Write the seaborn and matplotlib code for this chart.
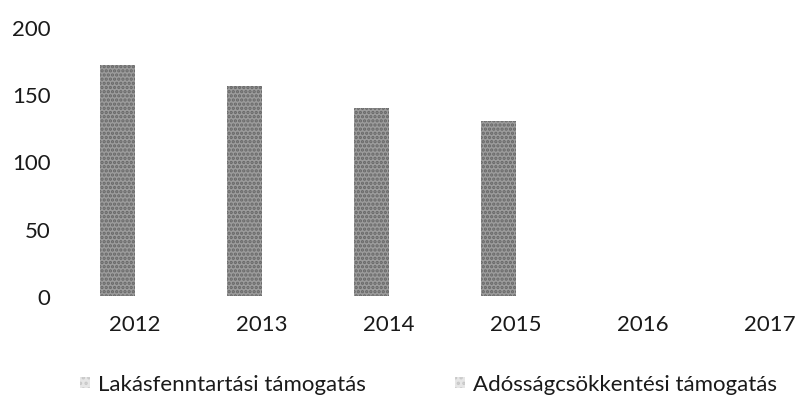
import pandas as pd
import matplotlib.pyplot as plt
import seaborn as sns

years = ["2012", "2013", "2014", "2015", "2016", "2017"]
lakas = [172, 156, 140, 130, 0, 0]
adossag = [0, 0, 0, 0, 0, 0]
series_names = ["Lakásfenntartási támogatás", "Adósságcsökkentési támogatás"]
y_ticks = [0, 50, 100, 150, 200]

df = pd.DataFrame({
    "year": years * 2,
    "series": [series_names[0]] * len(years) + [series_names[1]] * len(years),
    "value": lakas + adossag,
})

sns.set_style("white")
plt.rcParams["font.family"] = ["Lato", "DejaVu Sans"]
plt.rcParams["hatch.linewidth"] = 1.6

fig = plt.figure(figsize=(8.01, 4.10), dpi=100)
ax = fig.add_axes([71.5 / 801, 113 / 410, 762 / 801, 269 / 410])

palette = {series_names[0]: "#9c9c9c", series_names[1]: "#dcdcdc"}
sns.barplot(data=df, x="year", y="value", hue="series", palette=palette,
            width=0.55, saturation=1, ax=ax, legend=False)

# stippled look, like the scanned original
hatch_cols = ["#666666", "#bdbdbd"]
n = len(years)
for i, p in enumerate(ax.patches[:2 * n]):
    p.set_hatch("....")
    p.set_edgecolor(hatch_cols[i // n])
    p.set_linewidth(0)

ax.set_ylim(0, 200)
ax.set_xlim(-0.5, len(years) - 0.5)
ax.set_yticks(y_ticks)
ax.set_xlabel("")
ax.set_ylabel("")
ax.tick_params(axis="y", length=0, pad=15, labelsize=16, labelcolor="#1a1a1a")
ax.tick_params(axis="x", length=0, pad=13, labelsize=16, labelcolor="#1a1a1a")
sns.despine(ax=ax, left=True, bottom=True)

handles = [plt.Rectangle((0, 0), 1, 1, facecolor="#e6e6e6", edgecolor="#c8c8c8",
                         hatch="...", linewidth=0) for _ in series_names]
fig.legend(handles, series_names, loc="center", bbox_to_anchor=(0.535, 0.06),
           ncol=2, frameon=False, fontsize=16, handlelength=0.45, handleheight=0.45,
           handletextpad=0.35, columnspacing=4.0, labelcolor="#1a1a1a")

fig.savefig("out.png", dpi=100)
